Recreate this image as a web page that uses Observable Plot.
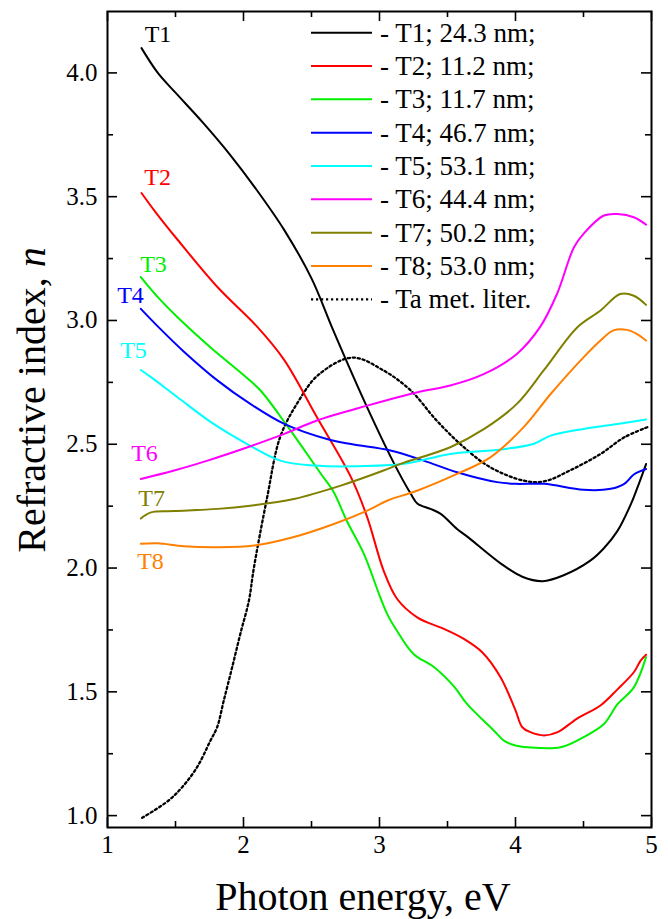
<!DOCTYPE html>
<html>
<head>
<meta charset="utf-8">
<script src="https://cdn.jsdelivr.net/npm/d3@7"></script>
<script src="https://cdn.jsdelivr.net/npm/@observablehq/plot@0.6"></script>
<style>
  html, body { margin: 0; padding: 0; background: #fff; }
  #chart { width: 668px; height: 919px; }
</style>
</head>
<body>
<div id="chart"></div>
<script>
// ---- data (photon energy in eV, refractive index n) ----
const T1 = [[1.25,4.10],[1.37,4.00],[1.5,3.92],[1.7,3.80],[1.9,3.67],[2.1,3.525],[2.3,3.365],[2.5,3.17],[2.66,2.96],[2.9,2.66],[3.1,2.43],[3.23,2.30],[3.28,2.26],[3.375,2.239],[3.45,2.219],[3.57,2.158],[3.65,2.125],[3.9,2.015],[4.05,1.965],[4.2,1.947],[4.35,1.97],[4.55,2.03],[4.65,2.08],[4.75,2.15],[4.85,2.26],[4.9,2.33],[4.96,2.42]];
const T2 = [[1.25,3.515],[1.35,3.44],[1.52,3.323],[1.81,3.134],[2.1,2.975],[2.30,2.84],[2.54,2.609],[2.79,2.367],[2.91,2.205],[3.03,1.99],[3.13,1.875],[3.28,1.80],[3.47,1.755],[3.62,1.714],[3.755,1.66],[3.89,1.559],[4.0,1.425],[4.05,1.357],[4.11,1.337],[4.21,1.324],[4.31,1.337],[4.45,1.391],[4.625,1.445],[4.75,1.51],[4.87,1.579],[4.92,1.626],[4.96,1.65]];
const T3 = [[1.245,3.175],[1.37,3.094],[1.515,3.013],[1.76,2.89],[2.0,2.78],[2.125,2.717],[2.32,2.575],[2.57,2.38],[2.66,2.31],[2.76,2.19],[2.885,2.057],[3.0,1.89],[3.056,1.815],[3.13,1.745],[3.25,1.653],[3.40,1.60],[3.55,1.52],[3.645,1.45],[3.84,1.344],[3.915,1.303],[4.0,1.283],[4.09,1.276],[4.33,1.276],[4.50,1.317],[4.65,1.37],[4.75,1.45],[4.87,1.518],[4.96,1.64]];
const T4 = [[1.245,3.047],[1.39,2.965],[1.56,2.875],[1.81,2.757],[2.05,2.663],[2.30,2.582],[2.62,2.52],[2.8,2.50],[3.08,2.475],[3.325,2.434],[3.57,2.387],[3.865,2.347],[4.0,2.34],[4.21,2.34],[4.50,2.316],[4.70,2.32],[4.80,2.34],[4.87,2.378],[4.96,2.40]];
const T5 = [[1.245,2.80],[1.32,2.771],[1.515,2.69],[1.78,2.582],[2.03,2.50],[2.27,2.434],[2.52,2.414],[2.81,2.411],[3.18,2.421],[3.52,2.461],[3.91,2.48],[4.135,2.502],[4.26,2.535],[4.50,2.562],[4.75,2.582],[4.96,2.60]];
const T6 = [[1.245,2.36],[1.49,2.394],[1.735,2.434],[2.03,2.488],[2.30,2.542],[2.54,2.596],[2.91,2.656],[3.28,2.71],[3.52,2.737],[3.77,2.784],[4.01,2.865],[4.18,2.973],[4.305,3.107],[4.43,3.296],[4.50,3.35],[4.65,3.424],[4.75,3.43],[4.87,3.417],[4.96,3.387]];
const T7 = [[1.245,2.20],[1.32,2.225],[1.49,2.23],[1.81,2.239],[2.05,2.252],[2.37,2.279],[2.715,2.333],[3.03,2.394],[3.155,2.421],[3.52,2.488],[3.77,2.562],[4.01,2.663],[4.21,2.80],[4.455,2.973],[4.625,3.04],[4.77,3.107],[4.87,3.10],[4.96,3.063]];
const T8 = [[1.245,2.098],[1.37,2.10],[1.56,2.088],[1.81,2.084],[2.08,2.091],[2.35,2.122],[2.665,2.178],[2.91,2.232],[3.06,2.273],[3.28,2.313],[3.57,2.38],[3.815,2.447],[4.06,2.569],[4.26,2.704],[4.50,2.851],[4.625,2.919],[4.72,2.96],[4.82,2.962],[4.89,2.946],[4.96,2.919]];
const TaLit = [[1.255,0.991],[1.449,1.061],[1.549,1.115],[1.659,1.196],[1.757,1.303],[1.806,1.357],[1.855,1.465],[1.917,1.60],[1.978,1.737],[2.04,1.869],[2.076,2.0],[2.174,2.286],[2.27,2.53],[2.40,2.67],[2.55,2.78],[2.80,2.85],[3.03,2.798],[3.23,2.717],[3.42,2.596],[3.62,2.488],[3.815,2.407],[4.06,2.353],[4.21,2.35],[4.40,2.394],[4.625,2.461],[4.80,2.528],[4.97,2.569]];

const seriesNames = ["T1","T2","T3","T4","T5","T6","T7","T8"];
const seriesData = [T1,T2,T3,T4,T5,T6,T7,T8];
const seriesColors = ["#000000","#ff0000","#00f000","#0000ff","#00ffff","#ff00ff","#808000","#ff8000"];
const legendLabels = ["- T1; 24.3 nm;","- T2; 11.2 nm;","- T3; 11.7 nm;","- T4; 46.7 nm;","- T5; 53.1 nm;","- T6; 44.4 nm;","- T7; 50.2 nm;","- T8; 53.0 nm;","- Ta met. liter."];
// curve label anchor positions (eV, n)
const labelE = [1.371,1.368,1.338,1.169,1.191,1.272,1.324,1.316];
const labelN = [4.157,3.577,3.226,3.100,2.878,2.462,2.281,2.027];

const xMajor = [1,2,3,4,5];
const xMinor = [1.5,2.5,3.5,4.5];
const yMajor = [1.0,1.5,2.0,2.5,3.0,3.5,4.0];
const yMinor = [1.25,1.75,2.25,2.75,3.25,3.75];

// ---- layout ----
const W = 668, H = 919;
const mL = 107, mR = 17, mT = 11, mB = 92;
const iW = W - mL - mR, iH = H - mT - mB;
const FONT = "'Liberation Serif','Times New Roman',serif";
const DOTS = "2.2,2.8";

const rows = seriesData.flatMap((s, i) => s.map(([e, n]) => ({e, n, name: seriesNames[i]})));
const taRows = TaLit.map(([e, n]) => ({e, n}));
const labels = seriesNames.map((t, i) => ({t, e: labelE[i], n: labelN[i], c: seriesColors[i]}));

const chart = Plot.plot({
  width: W, height: H,
  marginLeft: mL, marginRight: mR, marginTop: mT, marginBottom: mB,
  style: {fontFamily: FONT, fontSize: "25px", background: "#fff", color: "#000"},
  x: {domain: [1, 5], axis: null},
  y: {domain: [0.952, 4.248], axis: null},
  color: {domain: seriesNames, range: seriesColors},
  marks: [
    Plot.line(taRows, {x: "e", y: "n", stroke: "#000", strokeWidth: 2.3, strokeDasharray: DOTS, curve: "catmull-rom"}),
    Plot.line(rows, {x: "e", y: "n", z: "name", stroke: "name", strokeWidth: 2, curve: "catmull-rom"}),
    Plot.text(labels, {x: "e", y: "n", text: "t", fill: "c", fontSize: 24, fontFamily: FONT}),
    // inward ticks, all four sides
    Plot.ruleX(xMajor, {x: d => d, insetTop: iH - 10, strokeWidth: 1.6}),
    Plot.ruleX(xMinor, {x: d => d, insetTop: iH - 6, strokeWidth: 1.6}),
    Plot.ruleX(xMajor, {x: d => d, insetBottom: iH - 10, strokeWidth: 1.6}),
    Plot.ruleX(xMinor, {x: d => d, insetBottom: iH - 6, strokeWidth: 1.6}),
    Plot.ruleY(yMajor, {y: d => d, insetRight: iW - 10, strokeWidth: 1.6}),
    Plot.ruleY(yMinor, {y: d => d, insetRight: iW - 6, strokeWidth: 1.6}),
    Plot.ruleY(yMajor, {y: d => d, insetLeft: iW - 10, strokeWidth: 1.6}),
    Plot.ruleY(yMinor, {y: d => d, insetLeft: iW - 6, strokeWidth: 1.6}),
    // tick labels
    Plot.text(xMajor, {x: d => d, frameAnchor: "bottom", dy: 25, text: d3.format("d"), fontSize: 25, fontFamily: FONT, fill: "#000"}),
    Plot.text(yMajor, {y: d => d, frameAnchor: "left", dx: -10, textAnchor: "end", text: d3.format(".1f"), fontSize: 25, fontFamily: FONT, fill: "#000"}),
    Plot.frame({stroke: "#000", strokeWidth: 2})
  ]
});

document.getElementById("chart").appendChild(chart);

// ---- legend and axis titles ----
const svg = d3.select(chart);
const legend = svg.append("g").attr("font-family", FONT).attr("font-size", 27).attr("text-anchor", "start");
const legendColors = [...seriesColors, "#000"];
legendLabels.forEach((txt, i) => {
  const y = 32.7 + i * 33.33;
  legend.append("line")
    .attr("x1", 311).attr("x2", 372).attr("y1", y).attr("y2", y)
    .attr("stroke", legendColors[i]).attr("stroke-width", i === 8 ? 2.3 : 2)
    .attr("stroke-dasharray", i === 8 ? DOTS : null);
  legend.append("text").attr("x", 380).attr("y", y).attr("dy", "0.33em")
    .attr("fill", "#000").text(txt);
});

svg.append("text")
  .attr("x", 363).attr("y", 910)
  .attr("text-anchor", "middle")
  .attr("font-family", FONT).attr("font-size", 40).attr("fill", "#000")
  .text("Photon energy, eV");

const yt = svg.append("text")
  .attr("transform", "translate(45,400) rotate(-90)")
  .attr("text-anchor", "middle")
  .attr("font-family", FONT).attr("font-size", 40).attr("fill", "#000");
yt.append("tspan").text("Refractive index, ");
yt.append("tspan").attr("font-style", "italic").text("n");
</script>
</body>
</html>
